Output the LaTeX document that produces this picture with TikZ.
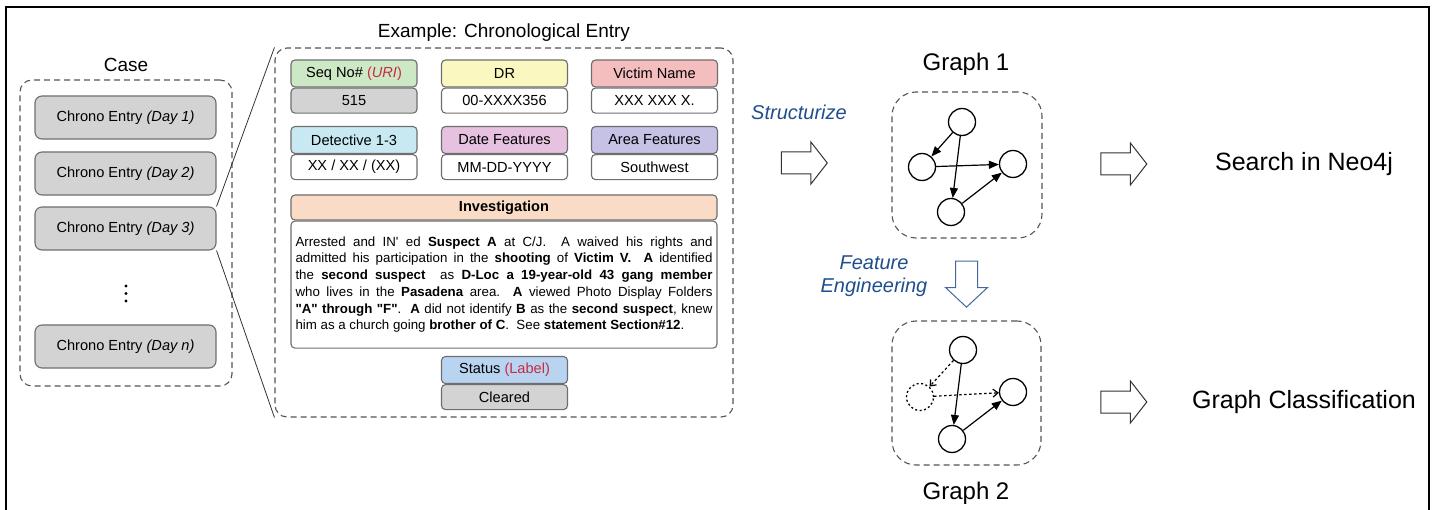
\documentclass[tikz,border=0pt]{standalone}
\usepackage{fontspec}
\setmainfont{Liberation Sans}
\usetikzlibrary{positioning,arrows.meta,shapes.arrows}
\definecolor{boxline}{RGB}{110,110,110}
\definecolor{dashline}{RGB}{85,85,85}
\definecolor{entrygray}{RGB}{211,211,211}
\definecolor{hdgreen}{RGB}{205,232,196}
\definecolor{hdyellow}{RGB}{250,247,192}
\definecolor{hdred}{RGB}{245,190,190}
\definecolor{hdcyan}{RGB}{200,233,242}
\definecolor{hdpink}{RGB}{230,193,224}
\definecolor{hdpurple}{RGB}{197,194,230}
\definecolor{hdorange}{RGB}{250,220,198}
\definecolor{hdblue}{RGB}{185,212,241}
\definecolor{notered}{RGB}{198,45,66}
\definecolor{stepblue}{RGB}{31,78,140}
\newcommand{\pxfont}[2]{\fontsize{#1}{#2}\selectfont}
\newcommand{\qt}[1]{\textquotedbl#1\textquotedbl}

\begin{document}
\begin{tikzpicture}[x=1pt,y=-1pt,
    dashbox/.style={draw=dashline,dash pattern=on 6pt off 4pt,line width=1.1pt,
      rounded corners=12pt,inner sep=0pt},
    entry/.style={draw=boxline,fill=entrygray,rounded corners=7pt,line width=1.1pt,
      minimum width=181pt,minimum height=43pt,inner sep=0pt,font=\pxfont{14.6}{17}},
    fhead/.style={draw=boxline,fill=#1,rounded corners=4pt,line width=1.1pt,
      minimum width=126pt,minimum height=27pt,inner sep=0pt,font=\pxfont{14.6}{17}},
    fval/.style={draw=boxline,fill=#1,rounded corners=4pt,line width=1.1pt,
      minimum width=126pt,minimum height=25pt,inner sep=0pt,font=\pxfont{14.6}{17}},
    fval/.default=white,
    title/.style={font=\pxfont{19}{22}},
    bigtext/.style={font=\pxfont{25}{28}},
    steptext/.style={text=stepblue,font=\pxfont{20}{23}\itshape,align=center},
    gnode/.style={draw,circle,line width=1.3pt,minimum size=27pt,inner sep=0pt},
    gedge/.style={-{Triangle[length=10pt,width=8pt]},line width=1.2pt},
    dropedge/.style={-{Straight Barb[length=5pt,width=8pt]},line width=1.2pt,
      dash pattern=on 2.5pt off 2.5pt},
    hollow/.style={single arrow,draw=black!80,fill=white,line width=1pt,
      inner xsep=0pt,inner ysep=10.5pt,minimum height=46pt,
      single arrow head extend=10pt,single arrow tip angle=104}]

  \useasboundingbox (0,0) rectangle (1437,510);
  % frame, open at the bottom
  \draw[line width=2pt] (6,515) -- (6,7) -- (1429,7) -- (1429,515);

  % case with its chrono entries
  \node[title] (casetitle) at (126,65) {Case};
  \node[dashbox,minimum width=212pt,minimum height=306pt] (case) at (126,233) {};
  \node[entry] (d1) at (125.5,117.5) {Chrono Entry \textit{(Day 1)}};
  \node[entry] (d2) at (125.5,173.5) {Chrono Entry \textit{(Day 2)}};
  \node[entry] (d3) at (125.5,228.5) {Chrono Entry \textit{(Day 3)}};
  \node[entry] (dn) at (125.5,346.5) {Chrono Entry \textit{(Day n)}};
  \foreach \yy in {286,293.5,301}
    \fill (126,\yy) circle (1.6pt);

  % one entry opened up
  \node[title] (extitle) at (504,33) {Example: Chronological Entry};
  \node[dashbox,minimum width=458pt,minimum height=369pt] (ex) at (504,232.5) {};
  \draw[line width=0.8pt,black!80] (d3.north east) -- (ex.north west);
  \draw[line width=0.8pt,black!80] (d3.south east) -- (ex.south west);

  \node[fhead=hdgreen] (seqh) at (354,73.5)
    {Seq No\# \textcolor{notered}{(\textit{URI})}};
  \node[fval=entrygray,below=0pt of seqh] (seqv) {515};
  \node[fhead=hdyellow] (drh) at (504.5,73.5) {DR};
  \node[fval,below=0pt of drh] (drv) {00-XXXX356};
  \node[fhead=hdred] (vich) at (654.5,73.5) {Victim Name};
  \node[fval,below=0pt of vich] (vicv) {XXX XXX X.};

  \node[fhead=hdcyan] (deth) at (354,140) {Detective 1-3};
  \node[fval,below=0pt of deth] (detv) {XX / XX / (XX)};
  \node[fhead=hdpink] (dath) at (504.5,140) {Date Features};
  \node[fval,below=0pt of dath] (datv) {MM-DD-YYYY};
  \node[fhead=hdpurple] (areh) at (654.5,140) {Area Features};
  \node[fval,below=0pt of areh] (arev) {Southwest};

  \node[fhead=hdorange,minimum width=426pt,minimum height=25pt] (invh) at (504,207.5)
    {\textbf{Investigation}};
  \node[fval,below=0pt of invh,minimum width=426pt,minimum height=127pt,
    text width=417pt,align=justify,font=\pxfont{13.3}{16.7}] (invv)
    {Arrested and IN\textquotesingle{} ed \textbf{Suspect A} at C/J.\ \ A waived his rights and\linebreak
     admitted his participation in the \textbf{shooting} of \textbf{Victim V.}\ \ \textbf{A} identified\linebreak
     the \textbf{second suspect}\ \ as \textbf{D-Loc a 19-year-old 43 gang member}\linebreak
     who lives in the \textbf{Pasadena} area.\ \ \textbf{A} viewed Photo Display Folders\linebreak
     \textbf{\qt{A} through \qt{F}}.\ \ \textbf{A} did not identify \textbf{B} as the \textbf{second suspect}, knew\linebreak
     him as a church going \textbf{brother of C}.\ \ See \textbf{statement Section\#12}.};

  \node[fhead=hdblue] (stah) at (504.5,370)
    {Status \textcolor{notered}{(Label)}};
  \node[fval=entrygray,below=0pt of stah] (stav) {Cleared};

  % structurize into graph 1
  \node[steptext] (struct) at (799,112) {Structurize};
  \node[hollow] (arr1) at (800,163) {};
  \node[bigtext,font=\pxfont{24}{28}] (g1title) at (966,64) {Graph 1};
  \node[dashbox,rounded corners=24pt,minimum width=150pt,minimum height=146pt] (g1) at (967,165) {};
  \node[gnode] (a1) at (962,122) {};
  \node[gnode] (b1) at (922,167) {};
  \node[gnode] (c1) at (1013,164) {};
  \node[gnode] (e1) at (951,212) {};
  \draw[gedge] (a1) -- (b1);
  \draw[gedge] (a1) -- (e1);
  \draw[gedge] (b1) -- (c1);
  \draw[gedge] (e1) -- (c1);

  % feature engineering into graph 2
  \node[steptext,text width=130pt] (feat) at (874,276) {Feature\\Engineering};
  \node[hollow,draw=stepblue!85,rotate=-90,single arrow tip angle=94] (arr2) at (966.5,279) {};
  \node[dashbox,rounded corners=24pt,minimum width=149pt,minimum height=144pt] (g2) at (966.5,393) {};
  \node[gnode] (a2) at (963,350) {};
  \node[gnode,dash pattern=on 2pt off 2.5pt] (b2) at (920,397) {};
  \node[gnode] (c2) at (1013,392) {};
  \node[gnode] (e2) at (952,439) {};
  \draw[dropedge] (a2) -- (b2);
  \draw[dropedge] (b2) -- (c2);
  \draw[gedge] (a2) -- (e2);
  \draw[gedge] (e2) -- (c2);
  \node[bigtext,font=\pxfont{24}{28}] (g2title) at (966,493) {Graph 2};

  % what each graph is used for
  \node[hollow] (arr3) at (1119.5,164) {};
  \node[bigtext] (neo) at (1304,164) {Search in Neo4j};
  \node[hollow] (arr4) at (1119.5,402) {};
  \node[bigtext] (cls) at (1304,402) {Graph Classification};
\end{tikzpicture}
\end{document}
